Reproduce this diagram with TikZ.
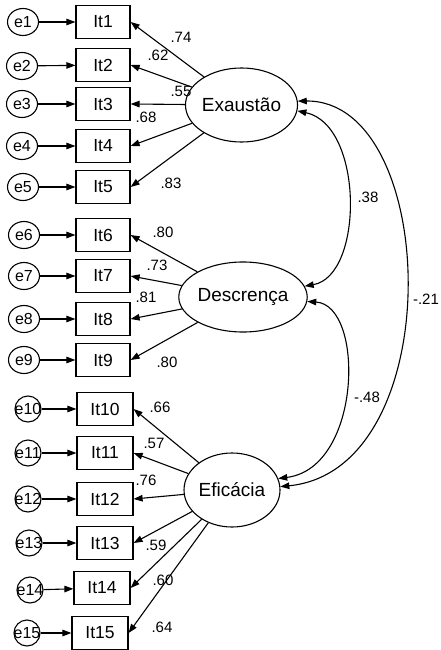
\documentclass[tikz,border=0pt]{standalone}
\usepackage{fontspec}
\setmainfont{Liberation Sans}
\usetikzlibrary{arrows.meta,shapes.geometric}

\begin{document}
\begin{tikzpicture}[x=1pt,y=-1pt,
  every node/.style={inner sep=0pt},
  obs/.style={draw, line width=1.2pt, minimum width=54pt, minimum height=33pt,
              font=\fontsize{17.5}{17.5}\selectfont},
  err/.style={draw, ellipse, line width=1.1pt, minimum width=31pt, minimum height=27pt,
              font=\fontsize{16}{16}\selectfont},
  lat/.style={draw, ellipse, line width=1.1pt, font=\fontsize{19}{19}\selectfont},
  load/.style={line width=1.1pt, -{Triangle[length=9pt,width=6.5pt]}},
  cov/.style={line width=1.1pt, {Triangle[length=9pt,width=6.5pt]}-{Triangle[length=9pt,width=6.5pt]}},
  coef/.style={font=\fontsize{15}{15}\selectfont},
]
\useasboundingbox (0,0) rectangle (441,650);

% latent factors
\node[lat, minimum width=97pt, minimum height=74pt] (ex) at (241.5,105) {Exaustão};
\node[lat, minimum width=104pt, minimum height=70pt] (de) at (243,297) {Descrença};
\node[lat, minimum width=96pt, minimum height=74pt] (ef) at (232,490) {Eficácia};

% observed items
\foreach \i/\x/\y/\w in {1/103/22/54, 2/103/65/54, 3/103/104/54, 4/103/146/54, 5/103/187/54,
                         6/103/235/54, 7/103/276/54, 8/103/319/54, 9/103/360/54,
                         10/105/409/56, 11/105/453/56, 12/105/499/56, 13/105/543/56,
                         14/102/588/56, 15/100/633/56}
  \node[obs, minimum width=\w pt] (it\i) at (\x,\y) {It\i};

% error terms
\foreach \i/\x/\y in {1/23/22, 2/22/66, 3/22/104, 4/22/146, 5/23/187,
                      6/24/235, 7/24/276, 8/24/319, 9/24/360}
  \node[err] (e\i) at (\x,\y) {\makebox[0pt]{e\i}};
\foreach \i/\x/\y in {10/28/409, 11/28/453, 12/28/499, 13/29/543, 14/30/590, 15/27/633}
  \node[err, minimum width=26pt, minimum height=26pt] (e\i) at (\x,\y) {\makebox[0pt]{e\i}};

% error paths
\foreach \i in {1,...,15}
  \draw[load] (e\i) -- (it\i);

% factor loadings
\foreach \i in {1,...,5}  \draw[load] (ex) -- (it\i.east);
\foreach \i in {6,...,9}  \draw[load] (de) -- (it\i.east);
\foreach \i in {10,...,15} \draw[load] (ef) -- (it\i.east);

% loading estimates
\node[coef] (l1)  at (181,37)  {.74};
\node[coef] (l2)  at (158,55)  {.62};
\node[coef] (l3)  at (181,91)  {.55};
\node[coef] (l4)  at (146,117) {.68};
\node[coef] (l5)  at (171,183) {.83};
\node[coef] (l6)  at (163,232) {.80};
\node[coef] (l7)  at (157,265) {.73};
\node[coef] (l8)  at (146,297) {.81};
\node[coef] (l9)  at (167,362) {.80};
\node[coef] (l10) at (160,407) {.66};
\node[coef] (l11) at (154,443) {.57};
\node[coef] (l12) at (146,480) {.76};
\node[coef] (l13) at (156,545) {.59};
\node[coef] (l14) at (163,580) {.60};
\node[coef] (l15) at (162,627) {.64};

% factor covariances
\draw[cov] (ex.4) .. controls (440,100) and (450,470) .. (ef.4);
\draw[cov] (ex.-6) .. controls (364,125) and (364,276) .. (de.10);
\draw[cov] (de.-4) .. controls (365,305) and (362,468) .. (ef.14);

\node[coef] (c1) at (368,197) {.38};
\node[coef] (c2) at (426,299) {-.21};
\node[coef] (c3) at (367,397) {-.48};
\end{tikzpicture}
\end{document}
